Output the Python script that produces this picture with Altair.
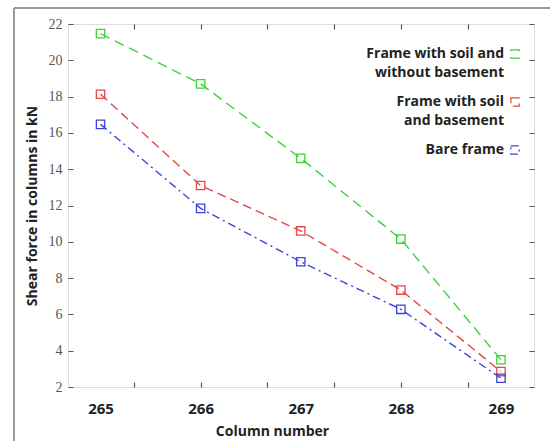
import altair as alt
import pandas as pd

columns = [265, 266, 267, 268, 269]
without_basement = [21.47, 18.7, 14.6, 10.15, 3.5]
with_basement = [18.13, 13.1, 10.6, 7.34, 2.85]
bare_frame = [16.47, 11.84, 8.9, 6.28, 2.48]
series_names = ["Frame with soil and|without basement", "Frame with soil|and basement", "Bare frame"]
series_colors = ["#3ad43a", "#e84545", "#4040dd"]
series_dashes = [[10, 6], [9, 5], [8, 4, 2, 4]]
y_ticks = [2, 4, 6, 8, 10, 12, 14, 16, 18, 20, 22]
x_minor_ticks = [265.333, 266.0, 266.667, 267.333, 268.0, 268.667]

rows = []
for name, vals in zip(series_names, [without_basement, with_basement, bare_frame]):
    for c, v in zip(columns, vals):
        rows.append({"series": name, "column": c, "value": v})
df = pd.DataFrame(rows)

xscale = alt.Scale(domain=[264.675, 269.33], nice=False, zero=False)
yscale = alt.Scale(domain=[2, 22], nice=False, zero=False)

yaxis = alt.Axis(values=y_ticks, grid=True, gridDash=[5, 456], gridColor="#555", gridWidth=1.2,
                 ticks=False, domain=False, labelFont="Liberation Sans Narrow", labelFontSize=14,
                 labelColor="#555", labelPadding=6, title="Shear force in columns in kN",
                 titleFont="Open Sans", titleFontSize=14, titleFontWeight="bold", titleColor="#222",
                 titlePadding=9)

color = alt.Color("series:N", scale=alt.Scale(domain=series_names, range=series_colors),
                  legend=alt.Legend(orient="none", legendX=440, legendY=23, title=None,
                                    labelAlign="right", labelOffset={"expr": "-18"}, symbolType="square",
                                    symbolSize=70, symbolStrokeWidth=1.3, symbolFillColor="white",
                                    labelFont="Open Sans", labelFontWeight="bold", labelFontSize=14,
                                    labelColor="#222", rowPadding=15, padding=0, labelLimit=400,
                                    labelBaseline="middle",
                                    labelExpr="split(datum.label, '|')"))

lines = alt.Chart(df).mark_line(strokeWidth=1.4).encode(
    x=alt.X("column:Q", scale=xscale,
            axis=alt.Axis(orient="bottom", values=columns, format="d", ticks=False, domain=False,
                          grid=False, labelFont="Open Sans", labelFontWeight="bold", labelFontSize=15,
                          labelColor="#222", labelPadding=14, title="Column number",
                          titleFont="Open Sans", titleFontSize=14, titleFontWeight="bold",
                          titleColor="#222", titlePadding=8, titleX=204, titleAlign="center")),
    y=alt.Y("value:Q", scale=yscale, axis=yaxis),
    color=color,
    strokeDash=alt.StrokeDash("series:N", scale=alt.Scale(domain=series_names, range=series_dashes),
                              legend=None),
)

points = alt.Chart(df).mark_point(shape="square", filled=False, size=70, strokeWidth=1.3, opacity=1).encode(
    x=alt.X("column:Q", scale=xscale,
            axis=alt.Axis(orient="top", values=x_minor_ticks, labels=False, ticks=False, domain=False,
                          grid=True, gridDash=[5, 353], gridColor="#555", gridWidth=1.2, title=None)),
    y=alt.Y("value:Q", scale=yscale, axis=yaxis),
    color=color,
)

frame_v = alt.Chart(alt.Data(values=[{}])).mark_rule(color="#999", strokeWidth=2).encode(
    x=alt.value(-54), y=alt.value(-16), y2=alt.value(417))
frame_h = alt.Chart(alt.Data(values=[{}])).mark_rule(color="#999", strokeWidth=2).encode(
    x=alt.value(-54), x2=alt.value(482), y=alt.value(-16))

chart = alt.layer(lines, points, frame_v, frame_h).resolve_axis(x="independent").properties(
    width=466, height=363,
    autosize=alt.AutoSizeParams(type="none"),
    padding={"left": 68, "top": 24, "right": 16, "bottom": 54},
    background="white",
).configure_view(stroke="#555", strokeWidth=1.5).configure(
    style={"guide-label": {"lineHeight": 19}}
)

chart.save("out.html", embed_options={"renderer": "svg", "actions": False})
